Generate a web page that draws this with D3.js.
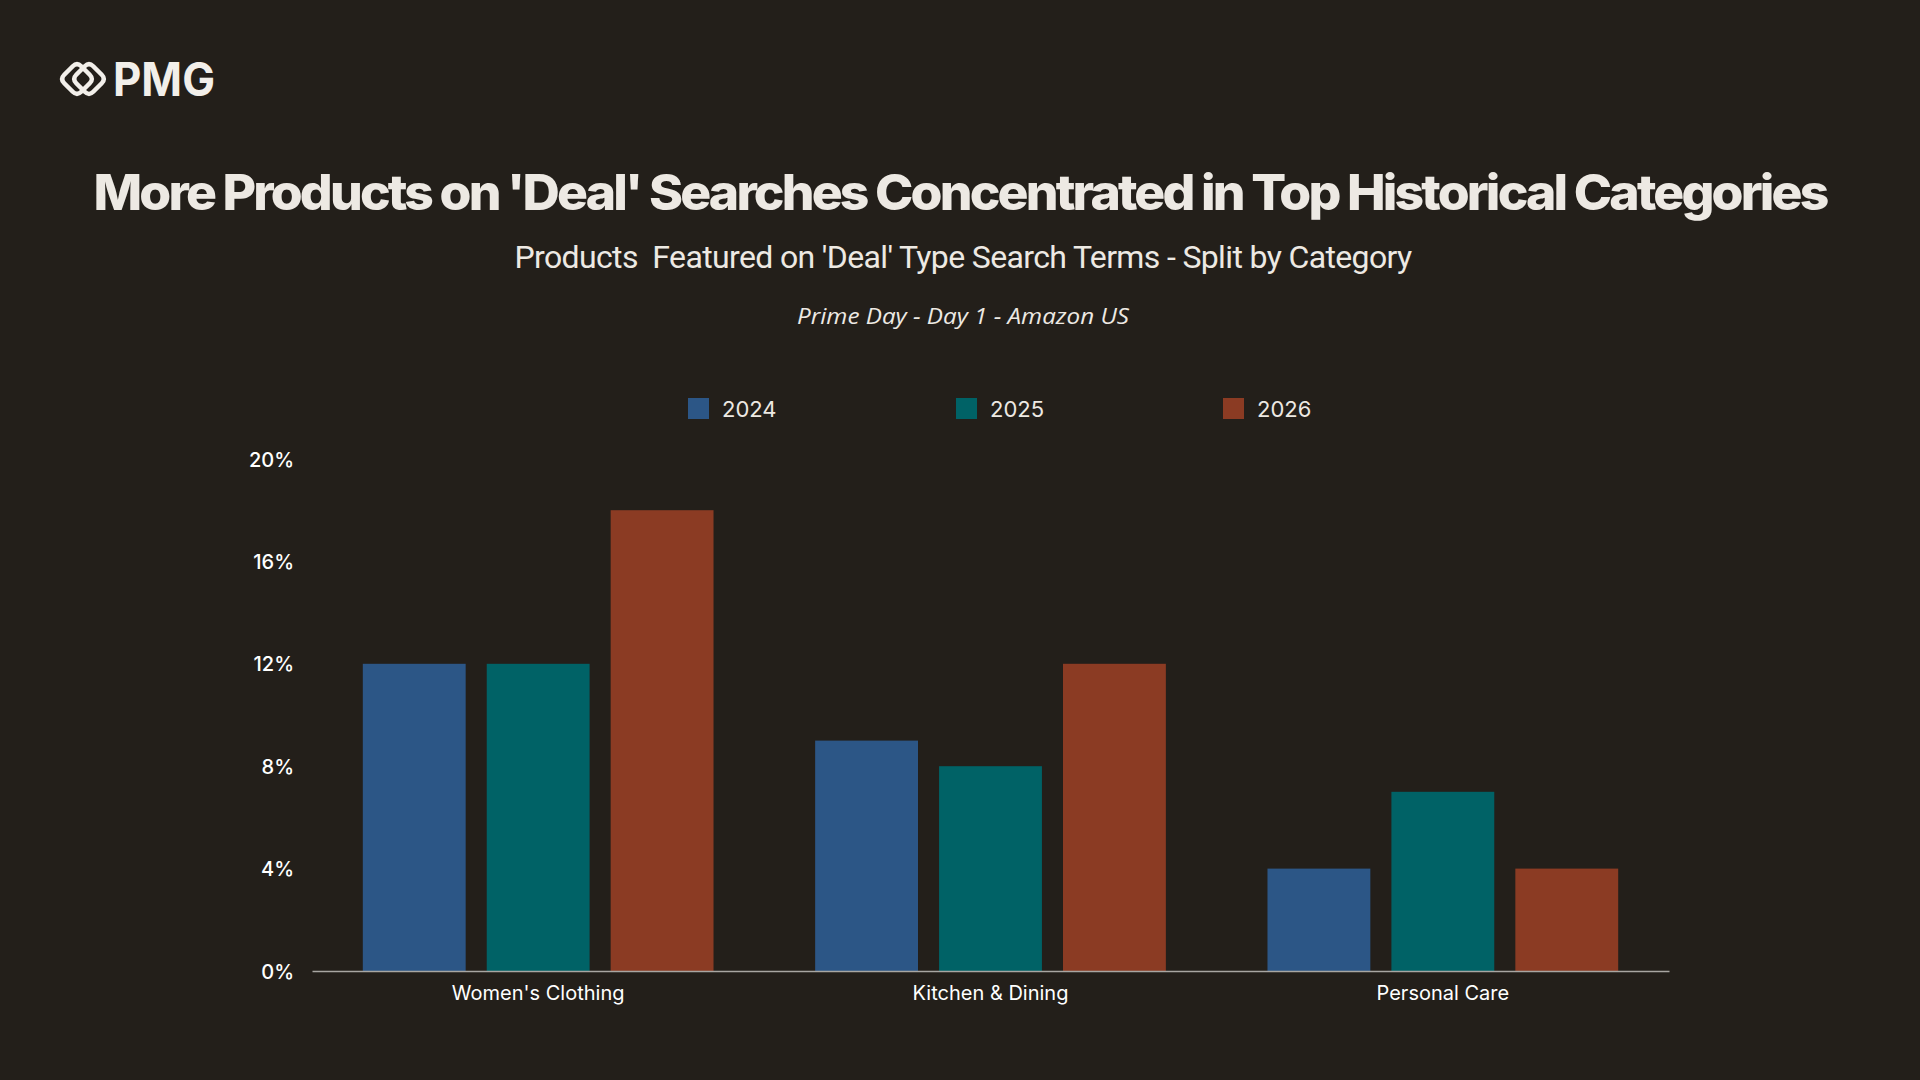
<!DOCTYPE html>
<html>
<head>
<meta charset="utf-8">
<script src="https://cdn.jsdelivr.net/npm/d3@7"></script>
<style>
html,body{margin:0;padding:0;background:#231f1a;}
svg{display:block;}
</style>
</head>
<body>
<svg id="chart" width="1920" height="1080"></svg>
<script>
const categories = ["Women's Clothing", "Kitchen & Dining", "Personal Care"];
const seriesNames = ["2024", "2025", "2026"];
const values2024 = [12, 9, 4];
const values2025 = [12, 8, 7];
const values2026 = [18, 12, 4];
const yTicks = [0, 4, 8, 12, 16, 20];
const colors = ["#2c5686", "#006266", "#8b3b23"];

const titleText = "More Products on 'Deal' Searches Concentrated in Top Historical Categories";
const subtitleText = "Products\u00a0\u00a0Featured on 'Deal' Type Search Terms - Split by Category";
const noteText = "Prime Day - Day 1 - Amazon US";

const seriesValues = [values2024, values2025, values2026];
const data = categories.map((c, i) => ({
  category: c,
  values: seriesNames.map((s, j) => ({ series: s, value: seriesValues[j][i], color: colors[j] }))
}));

const svg = d3.select("#chart");
svg.append("rect").attr("width", 1920).attr("height", 1080).attr("fill", "#231f1a");

// Logo
const logo = svg.append("g").attr("transform", "translate(59,59)");
function diamond(cx, cy, r, rr) {
  const pts = [[cx, cy - r], [cx + r, cy], [cx, cy + r], [cx - r, cy]];
  let p = "";
  for (let i = 0; i < 4; i++) {
    const a = pts[(i + 3) % 4], b = pts[i], c = pts[(i + 1) % 4];
    const t1 = rr / Math.hypot(b[0]-a[0], b[1]-a[1]);
    const t2 = rr / Math.hypot(c[0]-b[0], c[1]-b[1]);
    const p1 = [b[0] + (a[0]-b[0])*t1, b[1] + (a[1]-b[1])*t1];
    const p2 = [b[0] + (c[0]-b[0])*t2, b[1] + (c[1]-b[1])*t2];
    p += (i === 0 ? "M" : "L") + p1[0] + "," + p1[1] + "Q" + b[0] + "," + b[1] + " " + p2[0] + "," + p2[1];
  }
  return p + "Z";
}
logo.append("path").attr("d", diamond(18, 20, 17, 6)).attr("fill", "none").attr("stroke", "#f2efea").attr("stroke-width", 4.5);
logo.append("path").attr("d", diamond(30, 20, 17, 6)).attr("fill", "none").attr("stroke", "#f2efea").attr("stroke-width", 4.5);
logo.append("text").attr("x", 54).attr("y", 37)
  .attr("font-family", "Inter, 'DejaVu Sans', sans-serif").attr("font-weight", 700)
  .attr("font-size", 46).attr("fill", "#f2efea").text("PMG")
  .attr("textLength", 102).attr("lengthAdjust", "spacingAndGlyphs");

// Titles
svg.append("text").attr("x", 960).attr("y", 192).attr("text-anchor", "middle")
  .attr("dominant-baseline", "central")
  .attr("font-family", "Inter, 'Liberation Sans', sans-serif").attr("font-weight", 800)
  .attr("font-size", 49).attr("fill", "#ede9e3")
  .style("letter-spacing", "-0.055em")
  .attr("textLength", 1733).attr("lengthAdjust", "spacingAndGlyphs")
  .text(titleText);

svg.append("text").attr("x", 963).attr("y", 257).attr("text-anchor", "middle")
  .attr("dominant-baseline", "central")
  .attr("font-family", "Roboto, 'Liberation Sans', sans-serif").attr("font-weight", 400)
  .attr("font-size", 31).attr("fill", "#ede9e3")
  .style("letter-spacing", "-0.02em")
  .attr("textLength", 897).attr("lengthAdjust", "spacingAndGlyphs")
  .text(subtitleText);

svg.append("text").attr("x", 963).attr("y", 315).attr("text-anchor", "middle")
  .attr("dominant-baseline", "central")
  .attr("font-family", "'Open Sans', Lato, sans-serif").attr("font-style", "italic")
  .attr("font-size", 22).attr("fill", "#ede9e3")
  .attr("textLength", 332).attr("lengthAdjust", "spacingAndGlyphs")
  .text(noteText);

// Legend
const legendX = [688, 956, 1223];
const legend = svg.append("g");
seriesNames.forEach((s, i) => {
  const g = legend.append("g").attr("transform", `translate(${legendX[i]},398)`);
  g.append("rect").attr("width", 21).attr("height", 21).attr("fill", colors[i]);
  g.append("text").attr("x", 34).attr("y", 10.5).attr("dominant-baseline", "central")
    .attr("font-family", "Inter, 'Liberation Sans', sans-serif").attr("font-size", 22)
    .attr("fill", "#ede9e3").text(s);
});

// Scales
const x0 = d3.scaleBand().domain(categories).range([312, 1669]).paddingInner(0).paddingOuter(0);
const x1 = d3.scaleBand().domain(seriesNames).range([0, x0.bandwidth()]).paddingInner(0.17).paddingOuter(0.41);
const y = d3.scaleLinear().domain([0, 20]).range([971, 459]);

// Bars
const groups = svg.append("g").selectAll("g").data(data).join("g")
  .attr("transform", d => `translate(${x0(d.category)},0)`);
groups.selectAll("rect").data(d => d.values).join("rect")
  .attr("x", d => x1(d.series))
  .attr("y", d => y(d.value))
  .attr("width", x1.bandwidth())
  .attr("height", d => y(0) - y(d.value))
  .attr("fill", d => d.color);

// Y axis
const yAxis = svg.append("g").attr("transform", "translate(294,0)")
  .call(d3.axisLeft(y).tickValues(yTicks).tickFormat(d => d + "%").tickSize(0).tickPadding(0));
yAxis.select(".domain").remove();
yAxis.selectAll("text").attr("font-family", "Inter, 'Liberation Sans', sans-serif")
  .attr("font-size", 20).attr("font-weight", 500).attr("fill", "#ffffff").attr("dy", "0.35em");

// X axis
const xAxis = svg.append("g").attr("transform", "translate(0,971)")
  .call(d3.axisBottom(x0).tickSize(0).tickPadding(15).tickSizeOuter(0));
xAxis.select(".domain").attr("stroke", "#a8a6a2").attr("stroke-width", 1.5);
xAxis.selectAll("text").attr("font-family", "Inter, 'Liberation Sans', sans-serif")
  .attr("font-size", 20).attr("font-weight", 400).attr("fill", "#ffffff");
</script>
</body>
</html>
